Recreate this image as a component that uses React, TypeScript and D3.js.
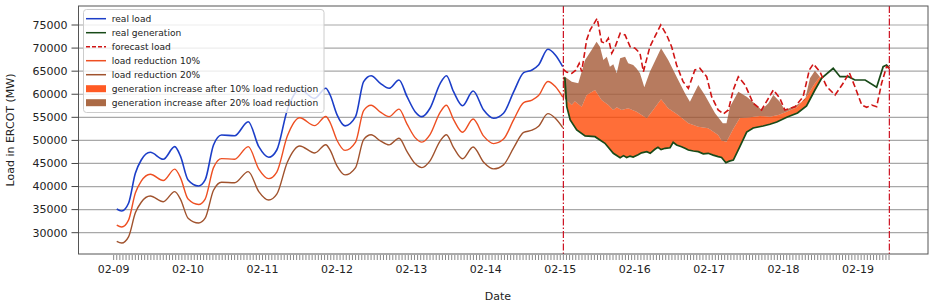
import React from 'react';
import * as d3 from 'd3';

// ---------- tick labels ----------
const dayLabels = ['02-09', '02-10', '02-11', '02-12', '02-13', '02-14', '02-15', '02-16', '02-17', '02-18', '02-19'];
const yTicks = [30000, 35000, 40000, 45000, 50000, 55000, 60000, 65000, 70000, 75000];

// ---------- history (hours since 02-09 00:00) ----------
const loadHours = [1, 2.6, 4.8, 7, 8.9, 11.8, 16, 19.7, 21.6, 24, 27.4, 29.5, 32.2, 34.8, 39, 43.4, 46.8, 50, 52.6, 56,
  60, 64.8, 68.4, 69.8, 72, 74.6, 78, 80.6, 83, 86, 88.8, 92, 94.6, 97.2, 99.4, 102, 105.3, 107.3, 109.6, 112.5,
  115.9, 119.3, 122.5, 125.7, 129, 132.2, 134.9, 137, 140, 142.4, 144.8];
const realLoad = [35140, 34700, 36370, 42870, 45750, 47420, 45900, 48640, 46470, 41420, 40120, 41420, 49000, 51170, 51020, 54050, 48640, 46340, 47920, 56590,
  61000, 59100, 61300, 59840, 55600, 53150, 55140, 62720, 64020, 62370, 61290, 63090, 59470, 56220, 55140, 56960, 62370, 64020, 60550, 57520,
  60700, 56590, 54790, 55870, 60550, 64670, 65260, 66340, 69740, 68510, 65970];
const loadRed10 = [31630, 31230, 32730, 38580, 41180, 42680, 41310, 43780, 41820, 37280, 36110, 37280, 44100, 46050, 45920, 48650, 43780, 41710, 43130, 50930,
  54900, 53190, 55170, 53860, 50040, 47840, 49630, 56450, 57620, 56130, 55160, 56780, 53520, 50600, 49630, 51260, 56130, 57620, 54500, 51770,
  54630, 50930, 49310, 50280, 54500, 58200, 58730, 59710, 62770, 61660, 59370];
const loadRed20 = [28110, 27760, 29100, 34300, 36600, 37940, 36720, 38910, 37180, 33140, 32100, 33140, 39200, 40940, 40820, 43240, 38910, 37070, 38340, 45270,
  48800, 47280, 49040, 47870, 44480, 42520, 44110, 50180, 51220, 49900, 49030, 50470, 47580, 44980, 44110, 45570, 49900, 51220, 48440, 46020,
  48560, 45270, 43830, 44700, 48440, 51740, 52210, 53070, 55790, 54810, 52780];

// ---------- forecast period ----------
const forecastHours = [145.0, 146.0, 147.7, 149.0, 150.1, 150.9, 152.5, 153.6, 155.9, 157.3, 158.4, 159.5, 160.6, 161.7, 163.3, 164.9, 166.5, 168.1, 169.7, 170.8,
  172.9, 174.5, 176.4, 178.3, 179.9, 181.5, 183.6, 185.3, 187.4, 189.0, 191.2, 192.8, 194.9, 196.6, 198.2, 199.8, 201.4, 203.6, 206.2, 208.9,
  212.7, 214.8, 216.4, 219.7, 222.3, 224.3, 225.6, 227.7, 229.9, 232.6, 235.2, 237.2, 239.0, 241.2, 242.8, 244.4, 246.0, 247.6, 249.2, 250.1];
const forecastLoad = [65400, 64800, 64500, 65200, 66700, 64900, 71760, 73900, 76460, 71390, 71030, 72130, 68880, 70310, 73210, 72850, 70310, 69960, 68880, 64890,
  70310, 72470, 75010, 72850, 70310, 66340, 62720, 61290, 65260, 65620, 63800, 59470, 56590, 55720, 56590, 61000, 63800, 62010, 58040, 56590,
  60920, 59120, 56590, 57300, 59470, 65260, 66560, 64890, 61640, 59840, 62370, 64670, 61640, 57670, 57170, 57670, 57300, 62370, 65970, 65620];

const genHours = [145.0, 145.5, 146.1, 147.2, 149.3, 152.0, 155.2, 158.4, 161.1, 163.3, 164.4, 165.4, 166.5, 167.5, 169.1, 170.2, 171.9, 173.0, 174.5, 175.5,
  176.5, 177.8, 179.4, 180.4, 181.5, 183.1, 184.2, 185.3, 186.9, 188.5, 190.1, 191.7, 193.3, 194.9, 196.0, 197.4, 198.5, 199.8, 201.9, 204.1,
  206.2, 209.4, 211.6, 213.8, 217.2, 220.5, 223.4, 226.1, 228.3, 232.0, 234.2, 236.9, 239.0, 242.3, 246.0, 248.1, 249.2, 250.1];
const realGeneration = [63500, 63460, 57300, 54420, 52260, 50960, 50800, 49370, 47200, 46250, 46700, 46300, 46600, 46400, 46900, 47300, 47550, 47200, 48070, 48500,
  48000, 48290, 48400, 49600, 49000, 48640, 48300, 47920, 47700, 47550, 47100, 47200, 46800, 46470, 46300, 45170, 45500, 45750, 48640, 51800,
  52690, 53120, 53500, 53990, 55080, 55940, 57460, 60920, 63520, 65620, 63800, 63800, 63090, 63090, 61510, 65970, 66340, 65620];

const inc10Hours = [145.0, 145.5, 147.7, 148.7, 150.9, 152.5, 155.2, 157.3, 159.5, 161.1, 162.2, 163.8, 165.9, 168.6, 171.9, 173.5, 176.5, 178.8, 182.0, 185.3,
  188.5, 191.7, 194.9, 196.0, 197.6, 199.8, 201.9, 205.2, 208.4, 211.6, 214.3, 217.0, 220.2, 223.4, 226.1, 227.7];
const inc10Top = [63500, 59000, 57670, 58500, 57300, 59840, 60920, 58760, 57670, 56590, 57200, 56590, 56960, 56220, 54790, 56220, 58900, 56960, 55500, 53700,
  52970, 52620, 51170, 50000, 49700, 52500, 54850, 55000, 55290, 55140, 55500, 56220, 57170, 59470, 62370, 63800];

const inc20Hours = [145.0, 145.5, 147.7, 149.8, 150.9, 152.0, 154.1, 155.7, 156.8, 157.9, 159.0, 160.0, 161.1, 162.2, 163.3, 164.9, 165.9, 167.5, 168.6, 169.7,
  171.1, 172.9, 176.5, 178.8, 181.5, 184.2, 185.8, 188.5, 190.6, 193.9, 196.4, 197.6, 198.7, 201.4, 204.1, 207.3, 208.9, 211.1, 212.7, 214.8,
  216.4, 220.2, 222.9, 224.5, 226.1, 227.7];
const inc20Top = [63800, 63800, 62720, 62370, 64890, 67430, 69590, 71390, 70310, 67430, 68140, 65970, 66500, 64540, 67790, 68140, 66700, 66340, 65600, 64540,
  61510, 64890, 69960, 67430, 63800, 60210, 58390, 62010, 59840, 55870, 53700, 53700, 57300, 60550, 59470, 57670, 56590, 58040, 59840, 58390,
  56590, 57660, 58760, 63460, 65110, 63800];

const markerHours = [145.0, 250.1];

const legendItems = [
  { label: 'real load', kind: 'line', color: '#1c3ec8' },
  { label: 'real generation', kind: 'line', color: '#184a18' },
  { label: 'forecast load', kind: 'dash', color: '#d01515' },
  { label: 'load reduction 10%', kind: 'line', color: '#ee4f22' },
  { label: 'load reduction 20%', kind: 'line', color: '#a0522d' },
  { label: 'generation increase after 10% load reduction', kind: 'patch', color: '#ff5a24' },
  { label: 'generation increase after 20% load reduction', kind: 'patch', color: '#ab6a45' },
];

type P = [number, number];
const zip = (hs: number[], vs: number[]): P[] => hs.map((h, i) => [h, vs[i]] as P);

export default function App() {
  const W = 934, H = 304;
  const left = 78.5, right = 928, top = 6, bottom = 254;
  const x = d3.scaleLinear().domain([-11.33, 262.56]).range([left, right]);
  const y = d3.scaleLinear().domain([25384, 79120]).range([bottom, top]);

  const smooth = d3.line<P>().x(d => x(d[0])).y(d => y(d[1])).curve(d3.curveMonotoneX);
  const lin = d3.line<P>().x(d => x(d[0])).y(d => y(d[1]));

  const gen = zip(genHours, realGeneration);
  const o10 = zip(inc10Hours, inc10Top);
  const o20 = zip(inc20Hours, inc20Top);
  const genUnder = gen.filter(d => d[0] <= 228.3);
  const fill10 = lin([...o10, ...genUnder.slice().reverse()]) + 'Z';
  const fill20 = lin([...o20, ...o10.slice().reverse()]) + 'Z';

  const font = 'DejaVu Sans, sans-serif';
  const hourTicks = d3.range(0, 251, 1);

  return (
    <svg width={W} height={H} style={{ position: 'absolute', left: 0, top: 0, background: '#fff' }} fontFamily={font}>
      <rect x={0} y={0} width={W} height={H} fill="#fff" />
      {/* grid */}
      {yTicks.map(t => (
        <line key={'g' + t} x1={left} x2={right} y1={y(t)} y2={y(t)} stroke="#a8a8a8" strokeWidth={1.2} />
      ))}
      {/* fills */}
      <path d={fill10} fill="#ff4500" fillOpacity={0.78} stroke="none" />
      <path d={fill20} fill="#a0522d" fillOpacity={0.76} stroke="none" />
      {/* history lines */}
      <path d={smooth(zip(loadHours, loadRed20)) || ''} fill="none" stroke="#a0522d" strokeWidth={1.4} />
      <path d={smooth(zip(loadHours, loadRed10)) || ''} fill="none" stroke="#ee4f22" strokeWidth={1.4} />
      <path d={smooth(zip(loadHours, realLoad)) || ''} fill="none" stroke="#1c3ec8" strokeWidth={1.6} />
      {/* forecast period lines */}
      <path d={lin(gen) || ''} fill="none" stroke="#184a18" strokeWidth={1.7} />
      <path d={lin(zip(forecastHours, forecastLoad)) || ''} fill="none" stroke="#d01515" strokeWidth={1.6} strokeDasharray="6,3" />
      {/* markers */}
      {markerHours.map(h => (
        <line key={'m' + h} x1={x(h)} x2={x(h)} y1={top} y2={bottom} stroke="#cc1020" strokeWidth={1.2} strokeDasharray="7,2,1.5,2" />
      ))}
      {/* spines */}
      <rect x={left} y={top} width={right - left} height={bottom - top} fill="none" stroke="#555" strokeWidth={1} />
      {/* y ticks */}
      {yTicks.map(t => (
        <g key={'yt' + t}>
          <line x1={left - 7} x2={left} y1={y(t)} y2={y(t)} stroke="#444" strokeWidth={1} />
          <text x={left - 11} y={y(t)} dy="0.35em" textAnchor="end" fontSize={11} fill="#222">{t}</text>
        </g>
      ))}
      {/* x ticks */}
      {hourTicks.map(h => (
        <line key={'xt' + h} x1={x(h)} x2={x(h)} y1={bottom + 1} y2={bottom + 6} stroke="#555" strokeWidth={0.7} />
      ))}
      {dayLabels.map((lab, i) => (
        <text key={lab} x={x(i * 24)} y={269} dy="0.35em" textAnchor="middle" fontSize={11} fill="#222">{lab}</text>
      ))}
      <text x={498} y={296} dy="0.35em" textAnchor="middle" fontSize={11} fill="#222">Date</text>
      <text transform="translate(10,130) rotate(-90)" dy="0.35em" textAnchor="middle" fontSize={11} fill="#222">Load in ERCOT (MW)</text>
      {/* legend */}
      <rect x={83.5} y={9.5} width={240.5} height={103} rx={3} fill="#fff" fillOpacity={0.8} stroke="#cccccc" strokeWidth={1} />
      {legendItems.map((it, i) => {
        const cy = 18.7 + 14 * i;
        return (
          <g key={it.label}>
            {it.kind === 'patch' ? (
              <rect x={86} y={cy - 3.5} width={20} height={7} fill={it.color} />
            ) : (
              <line x1={86} x2={106} y1={cy} y2={cy} stroke={it.color} strokeWidth={1.5} strokeDasharray={it.kind === 'dash' ? '4,2' : undefined} />
            )}
            <text x={111.7} y={cy} dy="0.35em" fontSize={9.1} fill="#222">{it.label}</text>
          </g>
        );
      })}
    </svg>
  );
}
